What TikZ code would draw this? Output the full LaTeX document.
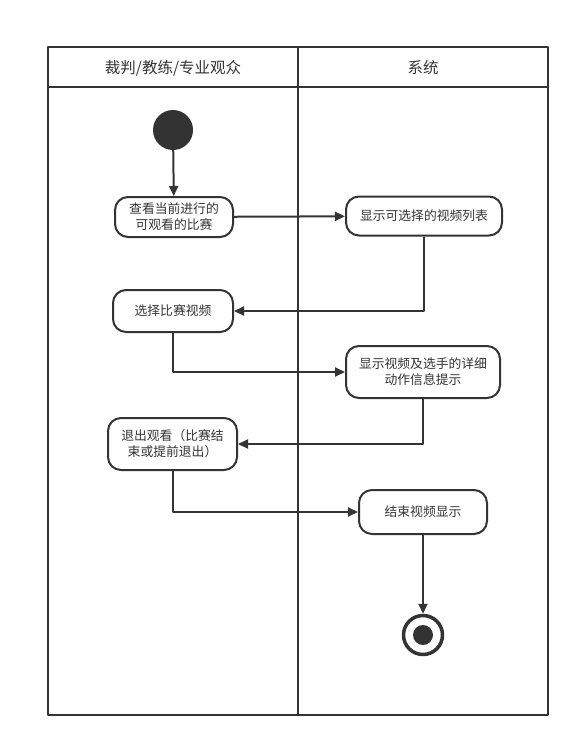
\documentclass[tikz,border=0pt]{standalone}
\usepackage{fontspec}
\setmainfont{Noto Sans CJK SC}
\usepackage{tikz}
\usetikzlibrary{arrows.meta}
\definecolor{ink}{HTML}{333333}
\tikzset{
  every picture/.style={
    line join=round,
    >={Triangle[length=10pt,width=9pt]},
  },
  lane/.style={draw=ink, line width=2pt},
  act/.style={draw=ink, line width=2pt, rounded corners=13pt, align=center,
    font=\fontsize{12.8}{16}\selectfont, text=ink, inner sep=0pt},
  flow/.style={->, draw=ink, line width=2pt},
}
\begin{document}
\begin{tikzpicture}[x=1pt,y=-1pt]
\useasboundingbox (0,0) rectangle (580,747);
% swimlanes
\draw[lane] (48,47) rectangle (548,715);
\draw[lane] (48,87) -- (548,87);
\draw[lane] (298,47) -- (298,715);
\node[font=\fontsize{15.5}{18}\selectfont, text=ink] (userhead) at (173,68) {裁判/教练/专业观众};
\node[font=\fontsize{15.5}{18}\selectfont, text=ink] (syshead) at (423,68) {系统};
% states
\node[circle, fill=ink, minimum size=40pt, inner sep=0pt] (start) at (173,130) {};
\node[act, minimum width=118pt, minimum height=40pt] (watch) at (174,217) {查看当前进行的\\可观看的比赛};
\node[act, minimum width=156pt, minimum height=39pt] (list) at (424,216) {显示可选择的视频列表};
\node[act, minimum width=120pt, minimum height=42pt] (choose) at (173,311) {选择比赛视频};
\node[act, minimum width=154pt, minimum height=52pt] (detail) at (423,372) {显示视频及选手的详细\\动作信息提示};
\node[act, minimum width=129pt, minimum height=52pt] (quit) at (172.5,444) {退出观看（比赛结\\束或提前退出）};
\node[act, minimum width=128pt, minimum height=44pt] (stop) at (423,512) {结束视频显示};
\node[circle, draw=ink, line width=3.5pt, minimum size=39pt, inner sep=0pt] (end) at (423,635) {};
\fill[ink] (end) circle (10);
% transitions
\draw[flow] (start) -- (watch);
\draw[flow] (watch) -- (list);
\draw[flow] (list.south) |- (choose.east);
\draw[flow] (choose.south) |- (detail.west);
\draw[flow] (detail.south) |- (quit.east);
\draw[flow] (quit.south) |- (stop.west);
\draw[flow] (stop) -- (end);
\end{tikzpicture}
\end{document}
